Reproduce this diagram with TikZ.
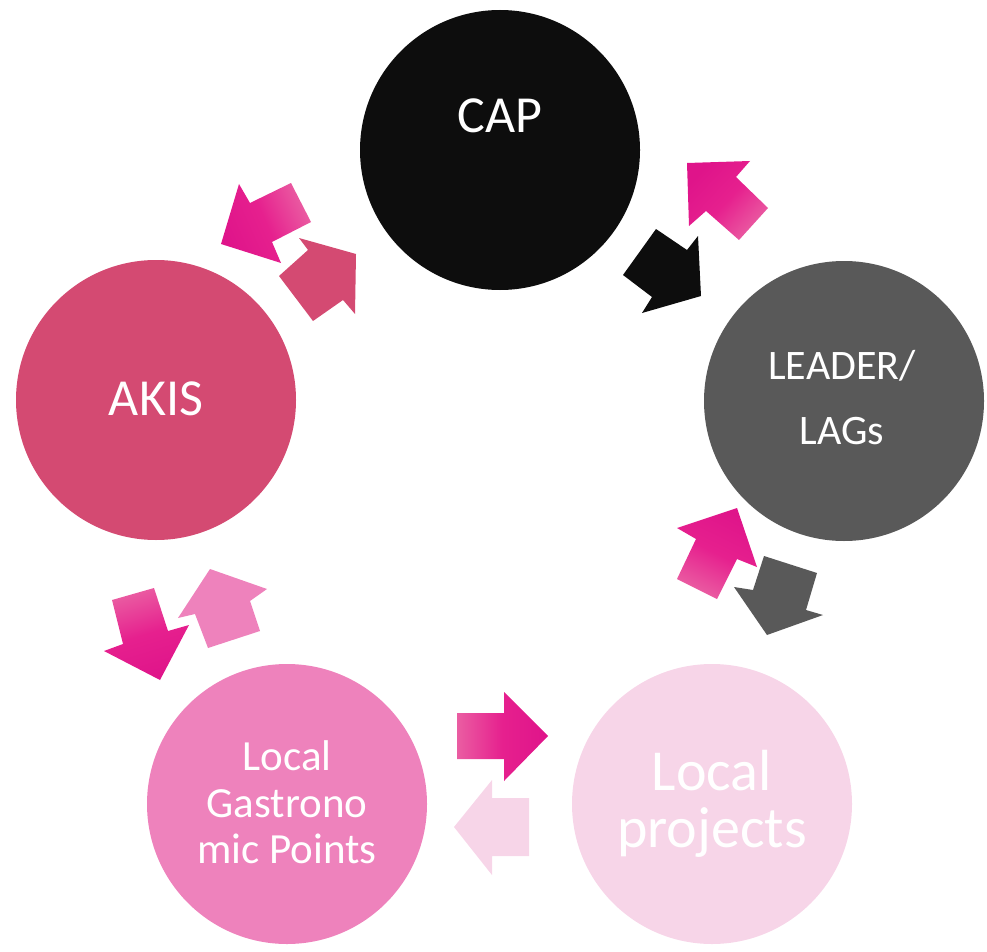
\documentclass[tikz,border=0pt]{standalone}
\usepackage{fontspec}
\setmainfont{Carlito}
\definecolor{capc}{HTML}{0D0D0D}
\definecolor{leaderc}{HTML}{595959}
\definecolor{projc}{HTML}{F7D5E8}
\definecolor{gastroc}{HTML}{EE82BC}
\definecolor{akisc}{HTML}{D44A72}
\definecolor{magD}{HTML}{DF148A}
\definecolor{magM}{HTML}{E6208E}
\definecolor{magL}{HTML}{EA5DA2}
\begin{document}
\begin{tikzpicture}[x=1pt,y=-1pt,
  circ/.style={circle, inner sep=0pt, minimum size=280pt},
  lbl/.style={text=white, anchor=base, inner sep=0pt},
  magarrow/.style={top color=magD, bottom color=magL, middle color=magM}]
\useasboundingbox (0,0) rectangle (987,952);
% circles
\node[circ, fill=capc] (cap) at (500,150) {};
\node[circ, fill=leaderc] (leader) at (844,401) {};
\node[circ, fill=projc] (proj) at (712,804) {};
\node[circ, fill=gastroc] (gastro) at (287,804) {};
\node[circ, fill=akisc] (akis) at (156,400) {};
% labels
\node[lbl, font=\fontsize{52}{60}\selectfont] (captxt) at (500,133) {CAP};
\node[lbl, font=\fontsize{52}{60}\selectfont] (akistxt) at (156,415) {AKIS};
\node[lbl, font=\fontsize{42}{50}\selectfont] (leadtxta) at (842,379) {LEADER/};
\node[lbl, font=\fontsize{42}{50}\selectfont] (leadtxtb) at (842,444) {LAGs};
\node[lbl, font=\fontsize{58}{66}\selectfont] (projtxta) at (712,790) {Local};
\node[lbl, font=\fontsize{58}{66}\selectfont] (projtxtb) at (712,847) {projects};
\node[lbl, font=\fontsize{43}{50}\selectfont] (gastxta) at (287,770) {Local};
\node[lbl, font=\fontsize{43}{50}\selectfont] (gastxtb) at (287,817) {Gastrono};
\node[lbl, font=\fontsize{43}{50}\selectfont] (gastxtc) at (287,863) {mic Points};
% arrows CAP <-> AKIS
\shade[magarrow, shading angle=114] (221,244) -- (239,184) -- (250,203) -- (291,183) -- (311,222) -- (272,242) -- (281,263) -- cycle;
\fill[akisc] (356,254) -- (355,314) -- (343,300) -- (313,321) -- (279,276) -- (308,250) -- (299,238) -- cycle;
% arrows CAP <-> LEADER
\shade[magarrow, shading angle=47] (687,163) -- (750,161) -- (736,177) -- (768,208) -- (739,240) -- (706,211) -- (689,226) -- cycle;
\fill[capc] (701,296) -- (642,313) -- (652,297) -- (623,275) -- (656,229) -- (687,250) -- (698,236) -- cycle;
% arrows LEADER <-> projects
\shade[magarrow, shading angle=-26] (737,508) -- (757,567) -- (737,559) -- (717,599) -- (677,579) -- (696,539) -- (677,528) -- cycle;
\fill[leaderc] (767,635) -- (734,587) -- (753,590) -- (764,556) -- (817,573) -- (806,610) -- (823,615) -- cycle;
% arrows projects <-> gastro
\shade[magarrow, shading angle=-90] (548,736) -- (504,692) -- (504,713) -- (457,713) -- (457,759) -- (504,759) -- (504,781) -- cycle;
\fill[projc] (454,827) -- (492,780) -- (492,798) -- (529,798) -- (529,856) -- (492,856) -- (492,875) -- cycle;
% arrows gastro <-> AKIS
\shade[magarrow, shading angle=197] (160,680) -- (104,651) -- (123,644) -- (112,600) -- (154,588) -- (168,631) -- (189,625) -- cycle;
\fill[gastroc] (210,569) -- (267,589) -- (250,601) -- (260,631) -- (208,648) -- (195,614) -- (178,618) -- cycle;
\end{tikzpicture}
\end{document}
